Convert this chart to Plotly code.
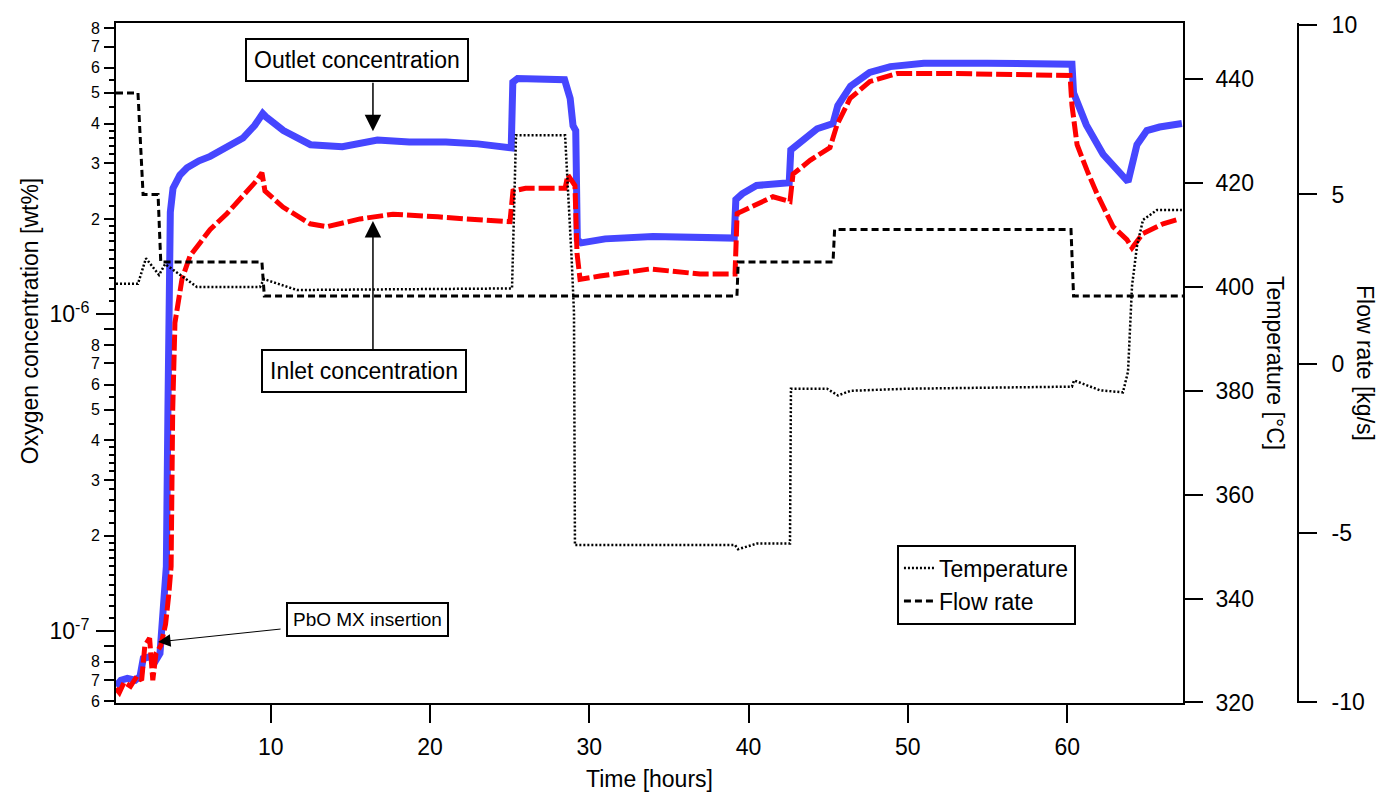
import math
import plotly.graph_objects as go

# ---------------- data ----------------
hours_outlet = [0.29, 0.6, 1.0, 1.5, 1.8, 2.0, 2.4, 2.8, 3.05, 3.24, 3.45, 3.55, 3.62, 3.7, 3.87,
                4.3, 4.75, 5.5, 6.2, 7.3, 8.26, 9.0, 9.5, 9.7, 10.8, 12.5, 14.5, 16.7, 18.7,
                21.0, 23.0, 25.1, 25.2, 25.5, 27.0, 28.45, 28.8, 28.98, 29.15, 29.25, 29.5,
                31.0, 34.0, 37.0, 39.1, 39.2, 39.6, 40.5, 42.55, 42.65, 43.5, 44.3, 45.3,
                45.6, 46.4, 47.6, 48.9, 51.0, 55.0, 58.0, 60.3, 60.4, 61.2, 62.25, 63.5,
                63.82, 64.38, 65.0, 65.8, 67.2]
outlet_conc = [6.7e-8, 7.0e-8, 7.1e-8, 7.0e-8, 7.2e-8, 8.2e-8, 8.3e-8, 8.1e-8, 8.5e-8, 1.2e-7,
               1.6e-7, 5.0e-7, 1.5e-6, 2.1e-6, 2.5e-6, 2.75e-6, 2.9e-6, 3.05e-6, 3.15e-6,
               3.4e-6, 3.6e-6, 3.95e-6, 4.3e-6, 4.2e-6, 3.8e-6, 3.43e-6, 3.38e-6, 3.55e-6,
               3.5e-6, 3.5e-6, 3.45e-6, 3.35e-6, 5.4e-6, 5.55e-6, 5.55e-6, 5.5e-6, 4.8e-6,
               3.94e-6, 3.8e-6, 1.72e-6, 1.68e-6, 1.73e-6, 1.76e-6, 1.75e-6, 1.74e-6, 2.3e-6,
               2.4e-6, 2.55e-6, 2.6e-6, 3.3e-6, 3.6e-6, 3.85e-6, 4.0e-6, 4.55e-6, 5.25e-6,
               5.8e-6, 6.05e-6, 6.2e-6, 6.2e-6, 6.15e-6, 6.15e-6, 5.0e-6, 3.96e-6, 3.2e-6,
               2.72e-6, 2.62e-6, 3.43e-6, 3.8e-6, 3.9e-6, 4.0e-6]

hours_inlet = [0.29, 0.5, 0.8, 1.2, 1.6, 1.9, 2.1, 2.4, 2.6, 2.8, 3.1, 3.4, 3.6, 3.75, 3.85, 3.99,
               4.43, 4.94, 5.56, 6.19, 7.26, 8.26, 9.14, 9.45, 9.64, 10.77, 12.47, 13.54,
               15.61, 17.68, 18.75, 20.5, 22.3, 25.02, 25.21, 26.0, 27.5, 28.48, 28.66, 29.1,
               29.23, 29.42, 30.67, 33.81, 36.95, 39.15, 39.28, 41.53, 42.6, 42.79, 43.86,
               45.11, 45.55, 46.37, 47.62, 49.32, 53.08, 57.0, 60.18, 60.3, 60.62, 61.24,
               61.87, 62.88, 63.75, 64.07, 64.76, 66.02, 67.08]
inlet_conc = [6.6e-8, 6.4e-8, 6.9e-8, 6.7e-8, 7.2e-8, 7.0e-8, 9.0e-8, 9.5e-8, 7.0e-8, 8.5e-8,
              9.0e-8, 1.05e-7, 1.3e-7, 1.6e-7, 5.0e-7, 9.4e-7, 1.29e-6, 1.53e-6, 1.68e-6,
              1.85e-6, 2.08e-6, 2.35e-6, 2.65e-6, 2.8e-6, 2.45e-6, 2.18e-6, 1.93e-6, 1.89e-6,
              2.0e-6, 2.07e-6, 2.06e-6, 2.03e-6, 2.0e-6, 1.96e-6, 2.45e-6, 2.5e-6, 2.5e-6,
              2.5e-6, 2.75e-6, 2.55e-6, 1.56e-6, 1.29e-6, 1.32e-6, 1.39e-6, 1.34e-6, 1.34e-6,
              2.08e-6, 2.35e-6, 2.27e-6, 2.77e-6, 3.06e-6, 3.36e-6, 3.96e-6, 4.8e-6, 5.43e-6,
              5.75e-6, 5.75e-6, 5.7e-6, 5.67e-6, 4.57e-6, 3.43e-6, 2.85e-6, 2.4e-6, 1.89e-6,
              1.72e-6, 1.62e-6, 1.8e-6, 1.93e-6, 2.0e-6]

hours_temp = [0.29, 1.67, 2.17, 2.99, 3.37, 5.37, 9.33, 9.58, 11.65, 25.15, 25.40, 28.48, 28.9,
              29.04, 29.1, 39.15, 39.34, 40.53, 42.6, 42.66, 44.92, 45.61, 46.4, 50.0, 55.0,
              60.3, 60.43, 62.06, 63.5, 63.82, 64.07, 64.38, 64.76, 65.64, 67.2]
temperature = [400.6, 400.6, 405.5, 402.3, 404.4, 400.0, 400.0, 401.5, 399.4, 399.7, 429.2,
               429.2, 405.0, 395.0, 350.3, 350.3, 349.5, 350.6, 350.6, 380.4, 380.4, 379.1,
               380.0, 380.4, 380.6, 380.8, 382.0, 380.1, 379.7, 383.7, 400.2, 407.8, 412.9,
               414.8, 414.8]

hours_flow = [0.29, 1.67, 1.99, 2.93, 3.1, 9.45, 9.6, 39.27, 39.35, 45.3, 45.4, 60.24, 60.4, 67.27]
flow_rate = [8.0, 8.0, 5.0, 5.0, 3.0, 3.0, 2.0, 2.0, 3.0, 3.0, 3.96, 3.96, 2.0, 2.0]

x_tick_vals = [10, 20, 30, 40, 50, 60]
decade_vals = [1e-7, 1e-6]
decade_text = ["10<sup>-7</sup>", "10<sup>-6</sup>"]
digit_vals = [6e-8, 7e-8, 8e-8, 9e-8,
              2e-7, 3e-7, 4e-7, 5e-7, 6e-7, 7e-7, 8e-7, 9e-7,
              2e-6, 3e-6, 4e-6, 5e-6, 6e-6, 7e-6, 8e-6]
digit_text = ["6", "7", "8", "", "2", "3", "4", "5", "6", "7", "8", "",
              "2", "3", "4", "5", "6", "7", "8"]
small_tick_mant = [1.1, 1.2, 1.3, 1.4, 1.5, 1.6, 1.7, 1.8, 1.9, 2.2, 2.4, 2.6, 2.8,
                   3.2, 3.4, 3.6, 3.8, 4.5, 5.5]
temp_ticks = [320, 340, 360, 380, 400, 420, 440]
flow_ticks = [-10, -5, 0, 5, 10]
flow_tick_text = ["-10", "-5", "0", "5", "10"]

small_tick_vals = [m * d for d in [1e-8, 1e-7, 1e-6] for m in small_tick_mant]

# ---------------- figure ----------------
FONT = "Arial, Liberation Sans, sans-serif"
XDOM = [0, 0.9027]
YRANGE = [-7.2267, -5.0807]

fig = go.Figure()
fig.add_trace(go.Scatter(x=hours_outlet, y=outlet_conc, mode="lines", name="Outlet concentration",
                         line=dict(color="#4646ff", width=7), showlegend=False))
fig.add_trace(go.Scatter(x=hours_inlet, y=inlet_conc, mode="lines", name="Inlet concentration",
                         line=dict(color="#ff0000", width=5, dash="16px,4px"), showlegend=False))
fig.add_trace(go.Scatter(x=[None], y=[None], yaxis="y4", showlegend=False, hoverinfo="skip"))
fig.add_trace(go.Scatter(x=[None], y=[None], yaxis="y5", showlegend=False, hoverinfo="skip"))
fig.add_trace(go.Scatter(x=hours_temp, y=temperature, mode="lines", name="Temperature", yaxis="y2",
                         line=dict(color="black", width=2.5, dash="2px,2px")))
fig.add_trace(go.Scatter(x=hours_flow, y=flow_rate, mode="lines", name="Flow rate", yaxis="y3",
                         line=dict(color="black", width=3, dash="7px,4px")))

tickfont = dict(family=FONT, size=23, color="black")

fig.update_layout(
    width=1384, height=799,
    margin=dict(l=116, r=86, t=12, b=96),
    paper_bgcolor="white", plot_bgcolor="white",
    font=dict(family=FONT, size=23, color="black"),
    xaxis=dict(domain=XDOM, range=[0.29, 67.27], tickvals=x_tick_vals, ticks="outside",
               ticklen=18, tickwidth=2, tickcolor="black", showline=True, linewidth=2,
               linecolor="black", mirror=True, showgrid=False, zeroline=False,
               tickfont=tickfont, ticklabelstandoff=4),
    yaxis=dict(type="log", range=YRANGE, tickvals=decade_vals, ticktext=decade_text,
               ticks="outside", ticklen=18, tickwidth=2, tickcolor="black", showline=True,
               linewidth=2, linecolor="black", showgrid=False, zeroline=False,
               tickfont=tickfont, ticklabelstandoff=2),
    yaxis4=dict(type="log", range=YRANGE, overlaying="y", side="left", anchor="x",
                tickvals=digit_vals, ticktext=digit_text, ticks="outside", ticklen=11,
                tickwidth=2, tickcolor="black", showline=False, showgrid=False, zeroline=False,
                tickfont=dict(family=FONT, size=16, color="black"), ticklabelstandoff=1),
    yaxis5=dict(type="log", range=YRANGE, overlaying="y", side="left", anchor="x",
                tickvals=small_tick_vals, showticklabels=False, ticks="outside", ticklen=6,
                tickwidth=1.5, tickcolor="black", showline=False, showgrid=False,
                zeroline=False),
    yaxis2=dict(range=[319.9, 450.8], overlaying="y", side="right", anchor="x",
                tickvals=temp_ticks, ticks="outside", ticklen=18, tickwidth=2,
                tickcolor="black", showline=True, linewidth=2, linecolor="black",
                showgrid=False, zeroline=False, tickfont=tickfont, ticklabelstandoff=8),
    yaxis3=dict(range=[-10.04, 10.07], overlaying="y", side="right", anchor="free",
                position=1.0, tickvals=flow_ticks, ticktext=flow_tick_text, ticks="outside",
                ticklen=18, tickwidth=2, tickcolor="black", showline=True, linewidth=2,
                linecolor="black", showgrid=False, zeroline=False, tickfont=tickfont,
                ticklabelstandoff=10),
    legend=dict(x=0.6607, y=0.233, xanchor="left", yanchor="top", bgcolor="white",
                bordercolor="black", borderwidth=2, font=dict(family=FONT, size=23),
                tracegroupgap=0),
)

ann_font = dict(family=FONT, size=23, color="black")
common = dict(xref="paper", yref="paper", xanchor="center", yanchor="middle", showarrow=False)
annotations = [
    # axis titles
    dict(text="Oxygen concentration [wt%]", x=-0.0728, y=0.5615, textangle=-90,
         font=ann_font, **common),
    dict(text="Time [hours]", x=0.4514, y=-0.1114, font=ann_font, **common),
    dict(text="Temperature [°C]", x=0.9805, y=0.5, textangle=90, font=ann_font, **common),
    dict(text="Flow rate [kg/s]", x=1.0567, y=0.5, textangle=90, font=ann_font, **common),
    # boxed labels
    dict(text="Outlet concentration", x=0.2039, y=0.945, font=ann_font, bgcolor="white",
         bordercolor="black", borderwidth=2, borderpad=7, **common),
    dict(text="Inlet concentration", x=0.2094, y=0.4884, font=ann_font, bgcolor="white",
         bordercolor="black", borderwidth=2, borderpad=7, **common),
    dict(text="PbO MX insertion", x=0.2128, y=0.1230,
         font=dict(family=FONT, size=19, color="black"), bgcolor="white",
         bordercolor="black", borderwidth=2, borderpad=5, **common),
    # arrows
    dict(text="", x=16.42, y=math.log10(3.78e-6), xref="x", yref="y", showarrow=True,
         ax=0, ay=-50, arrowhead=2, arrowsize=2.2, arrowwidth=1.5, arrowcolor="black",
         standoff=0),
    dict(text="", x=16.42, y=math.log10(1.97e-6), xref="x", yref="y", showarrow=True,
         ax=0, ay=130, arrowhead=2, arrowsize=2.2, arrowwidth=1.5, arrowcolor="black",
         standoff=0),
    dict(text="", x=2.93, y=math.log10(9.25e-8), xref="x", yref="y", showarrow=True,
         ax=124, ay=-13, arrowhead=2, arrowsize=2.5, arrowwidth=1, arrowcolor="black",
         standoff=0),
]
fig.update_layout(annotations=annotations)

fig.write_html("out.html")
